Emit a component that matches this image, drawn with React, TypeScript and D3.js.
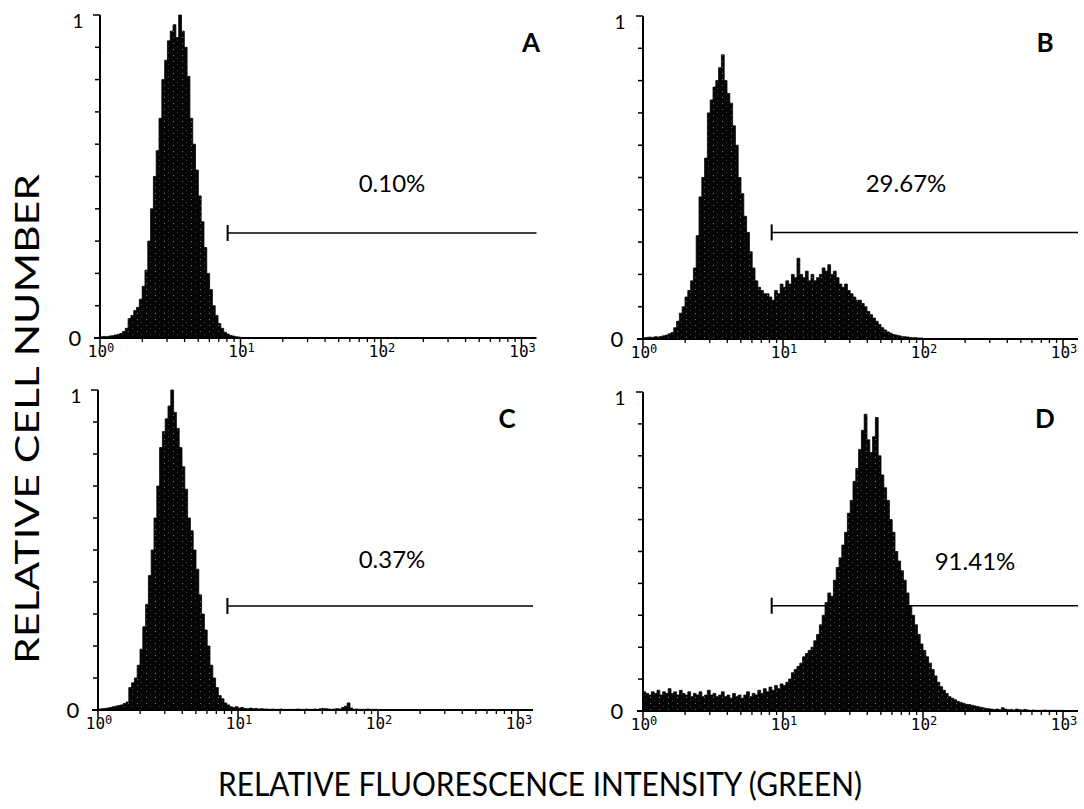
import React, { useRef, useEffect } from "react";
import * as d3 from "d3";

// one channel = 1/50 decade, channels start at 10^0
const BIN = 0.02;

const panelLetters = ["A", "B", "C", "D"];
const gatePercents = ["0.10%", "29.67%", "0.37%", "91.41%"];
const gateStarts = [8.1, 8.3, 8.4, 8.3];
const gateLevels = [0.325, 0.33, 0.325, 0.33];
const decadeTicks = [1, 10, 100, 1000];
const decadePowers = ["0", "1", "2", "3"];
const yTickLabels = ["0", "1"];

const histA = [
  0.004, 0.005, 0.004, 0.006, 0.007, 0.009, 0.011, 0.014, 0.02, 0.03,
  0.06, 0.07, 0.085, 0.095, 0.12, 0.16, 0.21, 0.3, 0.4, 0.5,
  0.58, 0.68, 0.8, 0.86, 0.92, 0.95, 0.97, 0.93, 1.0, 0.95,
  0.9, 0.81, 0.68, 0.6, 0.52, 0.44, 0.36, 0.28, 0.2, 0.15,
  0.1, 0.07, 0.045, 0.03, 0.018, 0.012, 0.008, 0.006, 0.004, 0.003,
];

const histB = [
  0.004, 0.005, 0.006, 0.005, 0.007, 0.006, 0.008, 0.01, 0.012, 0.016,
  0.02, 0.035, 0.055, 0.08, 0.1, 0.13, 0.15, 0.18, 0.22, 0.32,
  0.44, 0.5, 0.56, 0.7, 0.74, 0.78, 0.8, 0.84, 0.88, 0.8,
  0.76, 0.73, 0.66, 0.6, 0.5, 0.45, 0.38, 0.33, 0.27, 0.22,
  0.18, 0.16, 0.15, 0.14, 0.14, 0.13, 0.12, 0.15, 0.14, 0.17,
  0.16, 0.18, 0.17, 0.2, 0.19, 0.25, 0.2, 0.19, 0.21, 0.18,
  0.2, 0.18, 0.19, 0.2, 0.22, 0.21, 0.23, 0.2, 0.21, 0.19,
  0.17, 0.16, 0.17, 0.15, 0.14, 0.13, 0.12, 0.12, 0.11, 0.1,
  0.085, 0.075, 0.065, 0.055, 0.045, 0.035, 0.028, 0.022, 0.018, 0.014,
  0.012, 0.01, 0.008, 0.007, 0.006, 0.005, 0.004, 0.004, 0.003, 0.003,
];

const histC = [
  0.003, 0.004, 0.005, 0.006, 0.008, 0.01, 0.012, 0.014, 0.016, 0.02,
  0.025, 0.07, 0.085, 0.1, 0.14, 0.19, 0.26, 0.33, 0.42, 0.5,
  0.6, 0.7, 0.82, 0.87, 0.91, 0.95, 1.0, 0.93, 0.88, 0.82,
  0.76, 0.69, 0.6, 0.56, 0.5, 0.44, 0.36, 0.3, 0.25, 0.2,
  0.14, 0.1, 0.07, 0.045, 0.035, 0.022, 0.016, 0.01, 0.008, 0.01,
  0.006, 0.008, 0.005, 0.004, 0.006, 0.004, 0.005, 0.003, 0.004, 0.003,
  0.003, 0.002, 0.003, 0.002, 0.002, 0.003, 0.002, 0.002, 0.002, 0.002,
  0.002, 0.003, 0.002, 0.002, 0.003, 0.002, 0.002, 0.003, 0.002, 0.004,
  0.005, 0.004, 0.003, 0.002, 0.003, 0.004, 0.003, 0.008, 0.012, 0.022,
  0.006, 0.002, 0.003, 0.002, 0.002, 0.002, 0.003, 0.002, 0.002, 0.002,
];

const histD = [
  0.06, 0.055, 0.05, 0.06, 0.055, 0.065, 0.05, 0.06, 0.055, 0.07,
  0.055, 0.06, 0.05, 0.065, 0.055, 0.05, 0.06, 0.045, 0.055, 0.05,
  0.06, 0.045, 0.05, 0.065, 0.05, 0.055, 0.045, 0.05, 0.06, 0.045,
  0.05, 0.04, 0.055, 0.045, 0.05, 0.04, 0.05, 0.06, 0.045, 0.055,
  0.05, 0.065, 0.055, 0.07, 0.06, 0.075, 0.065, 0.08, 0.07, 0.085,
  0.08, 0.09, 0.1, 0.12, 0.13, 0.14, 0.15, 0.17, 0.18, 0.19,
  0.2, 0.22, 0.24, 0.27, 0.3, 0.34, 0.37, 0.36, 0.41, 0.45,
  0.48, 0.52, 0.56, 0.62, 0.66, 0.72, 0.76, 0.82, 0.88, 0.93,
  0.85, 0.81, 0.86, 0.92, 0.8, 0.74, 0.7, 0.66, 0.6, 0.56,
  0.5, 0.47, 0.44, 0.41, 0.37, 0.33, 0.3, 0.27, 0.24, 0.21,
  0.19, 0.17, 0.15, 0.13, 0.11, 0.09, 0.076, 0.065, 0.055, 0.045,
  0.04, 0.035, 0.03, 0.027, 0.024, 0.021, 0.02, 0.018, 0.016, 0.014,
  0.012, 0.01, 0.008, 0.007, 0.006, 0.005, 0.006, 0.004, 0.01, 0.006,
  0.004, 0.005, 0.003, 0.006, 0.004, 0.003, 0.005, 0.003, 0.002, 0.003,
  0.002, 0.002, 0.002, 0.003, 0.002, 0.002, 0.002, 0.002, 0.002, 0.002,
];

const histograms = [histA, histB, histC, histD];

// where each panel sits on the page
const layout = [
  { x0: 100, decade: 140.5, top: 15, base: 338, letterX: 531, letterY: 52, pctX: 392, pctY: 192, oneX: 78, zeroX: 75 },
  { x0: 643, decade: 140, top: 16, base: 339, letterX: 1045, letterY: 52, pctX: 906, pctY: 192, oneX: 620, zeroX: 617 },
  { x0: 98, decade: 140, top: 390, base: 710, letterX: 507, letterY: 428, pctX: 392, pctY: 568, oneX: 76, zeroX: 73 },
  { x0: 643, decade: 140, top: 392, base: 711, letterX: 1045, letterY: 428, pctX: 975, pctY: 570, oneX: 620, zeroX: 617 },
];

const W = 1084, H = 809;
const font = "Lato, 'Open Sans', sans-serif";
const mono = "'DejaVu Sans Mono', 'Liberation Mono', monospace";

function App() {
  const svgRef = useRef(null);

  useEffect(() => {
    const svg = d3.select(svgRef.current).attr("width", W).attr("height", H);
    svg.selectAll("*").remove();

    const pat = svg.append("defs").append("pattern")
      .attr("id", "speckle")
      .attr("width", 9).attr("height", 6)
      .attr("patternUnits", "userSpaceOnUse");
    pat.append("rect").attr("width", 9).attr("height", 6).attr("fill", "#050505");
    pat.append("rect").attr("x", 2).attr("y", 1).attr("width", 1).attr("height", 1).attr("fill", "#6e6e6e");
    pat.append("rect").attr("x", 6).attr("y", 4).attr("width", 1).attr("height", 1).attr("fill", "#3c3c3c");

    layout.forEach((p, k) => {
      const g = svg.append("g");
      const x = d3.scaleLog().domain([1, 1000]).range([p.x0, p.x0 + 3 * p.decade]);
      const y = d3.scaleLinear().domain([0, 1]).range([p.base, p.top]);
      const xEnd = x(1000) + 15;

      // histogram
      const vals = histograms[k];
      const pts = vals.concat([vals[vals.length - 1]]);
      const area = d3.area<number>()
        .x((d, i) => x(Math.pow(10, i * BIN)))
        .y0(p.base)
        .y1(d => y(d))
        .curve(d3.curveStepAfter);
      g.append("path")
        .attr("d", area(pts))
        .attr("fill", "url(#speckle)")
        .attr("stroke", "#000")
        .attr("stroke-width", 0.8);

      // y axis
      g.append("line")
        .attr("x1", p.x0).attr("x2", p.x0)
        .attr("y1", p.top).attr("y2", p.base)
        .attr("stroke", "#000").attr("stroke-width", 2);
      g.selectAll(".ytick")
        .data(d3.range(1, 11).map(v => v / 10))
        .join("line")
        .attr("x1", v => p.x0 - (v === 1 ? 7 : 5)).attr("x2", p.x0)
        .attr("y1", v => y(v)).attr("y2", v => y(v))
        .attr("stroke", "#000").attr("stroke-width", 1.5);

      // x axis
      g.append("line")
        .attr("x1", p.x0 - 6).attr("x2", xEnd)
        .attr("y1", p.base).attr("y2", p.base)
        .attr("stroke", "#000").attr("stroke-width", 2);
      const minor = d3.range(0, 3).flatMap(e => d3.range(2, 10).map(m => m * Math.pow(10, e)));
      g.selectAll(".xminor")
        .data(minor)
        .join("line")
        .attr("x1", v => x(v)).attr("x2", v => x(v))
        .attr("y1", p.base).attr("y2", p.base + 4)
        .attr("stroke", "#000").attr("stroke-width", 1.3);
      g.selectAll(".xmajor")
        .data(decadeTicks)
        .join("line")
        .attr("x1", v => x(v)).attr("x2", v => x(v))
        .attr("y1", p.base).attr("y2", p.base + 8)
        .attr("stroke", "#000").attr("stroke-width", 1.5);

      const lab = g.selectAll(".xlab")
        .data(decadeTicks)
        .join("text")
        .attr("x", v => x(v) + 1)
        .attr("y", p.base + 19)
        .attr("text-anchor", "middle")
        .attr("font-family", mono)
        .attr("font-size", 16)
        .attr("fill", "#000");
      lab.append("tspan").text("10");
      lab.append("tspan")
        .attr("dy", -5)
        .attr("font-size", 12)
        .text((v, i) => decadePowers[i]);

      // y tick labels
      g.append("text")
        .attr("x", p.oneX).attr("y", p.top + 13)
        .attr("text-anchor", "middle")
        .attr("font-family", font).attr("font-size", 19)
        .text(yTickLabels[1]);
      g.append("text")
        .attr("x", p.zeroX).attr("y", p.base + 8)
        .attr("text-anchor", "middle")
        .attr("font-family", font).attr("font-size", 22)
        .text(yTickLabels[0]);

      // gate marker
      const gx = x(gateStarts[k]);
      const gy = y(gateLevels[k]);
      g.append("line")
        .attr("x1", gx).attr("x2", xEnd)
        .attr("y1", gy).attr("y2", gy)
        .attr("stroke", "#000").attr("stroke-width", 1.5);
      g.append("line")
        .attr("x1", gx).attr("x2", gx)
        .attr("y1", gy - 8).attr("y2", gy + 8)
        .attr("stroke", "#000").attr("stroke-width", 2);

      g.append("text")
        .attr("x", p.pctX).attr("y", p.pctY)
        .attr("text-anchor", "middle")
        .attr("font-family", font).attr("font-size", 24)
        .text(gatePercents[k]);
      g.append("text")
        .attr("x", p.letterX).attr("y", p.letterY)
        .attr("text-anchor", "middle")
        .attr("font-family", font).attr("font-size", 26).attr("font-weight", "bold")
        .text(panelLetters[k]);
    });

    // axis titles
    svg.append("text")
      .attr("transform", "translate(39,419) rotate(-90)")
      .attr("text-anchor", "middle")
      .attr("font-family", font).attr("font-size", 32)
      .attr("textLength", 490).attr("lengthAdjust", "spacingAndGlyphs")
      .text("RELATIVE CELL NUMBER");
    svg.append("text")
      .attr("x", 540).attr("y", 796)
      .attr("text-anchor", "middle")
      .attr("font-family", font).attr("font-size", 32)
      .attr("textLength", 644).attr("lengthAdjust", "spacingAndGlyphs")
      .text("RELATIVE FLUORESCENCE INTENSITY (GREEN)");
  }, []);

  return (
    <svg ref={svgRef} style={{ position: "absolute", left: 0, top: 0, background: "#fff" }} />
  );
}

export default App;
